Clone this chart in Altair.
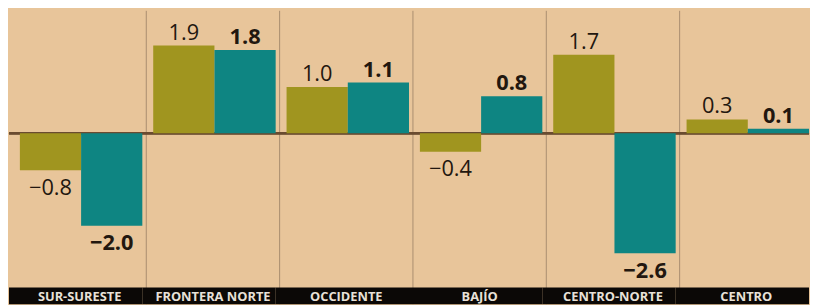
import altair as alt
import pandas as pd

regions = ["SUR-SURESTE", "FRONTERA NORTE", "OCCIDENTE", "BAJÍO", "CENTRO-NORTE", "CENTRO"]
series_names = ["Serie 1", "Serie 2"]
olive_values = [-0.8, 1.9, 1.0, -0.4, 1.7, 0.3]
teal_values = [-2.0, 1.8, 1.1, 0.8, -2.6, 0.1]

BG = "#E8C59A"
OLIVE = "#A0951F"
TEAL = "#0E8582"
INK = "#22170F"

rows = []
for r, a, b in zip(regions, olive_values, teal_values):
    rows.append({"region": r, "series": series_names[0], "value": a})
    rows.append({"region": r, "series": series_names[1], "value": b})
df = pd.DataFrame(rows)
reg_df = pd.DataFrame({"region": regions})
sep_df = pd.DataFrame({"region": regions[:-1]})

W, H = 810, 297
xs = alt.Scale(domain=regions, paddingInner=0, paddingOuter=0)
ys = alt.Scale(domain=[-3.70, 2.65], nice=False, zero=False)
xo = alt.Scale(domain=series_names, paddingInner=0, paddingOuter=0.089, align=1)

X = alt.X("region:N", sort=regions, scale=xs, axis=None)
Y = alt.Y("value:Q", scale=ys, axis=None)

band = alt.Chart(reg_df).mark_rect(color="#0B0806").encode(
    x=X, y=alt.value(280), y2=alt.value(H)
)

seps = alt.Chart(sep_df).mark_rule(color="#A98D70", strokeWidth=1, xOffset=4).encode(
    x=alt.X("region:N", sort=regions, scale=xs, axis=None, bandPosition=1)
)

zero = alt.Chart(reg_df).mark_rule(color="#6A4B30", strokeWidth=2).encode(
    y=alt.Y(datum=0, scale=ys, axis=None)
)

bars = alt.Chart(df).mark_bar().encode(
    x=X,
    xOffset=alt.XOffset("series:N", scale=xo, sort=series_names),
    y=Y,
    y2=alt.Y2(datum=0),
    color=alt.Color("series:N", scale=alt.Scale(domain=series_names, range=[OLIVE, TEAL]), legend=None),
)

base_txt = alt.Chart(df).transform_calculate(label="format(datum.value, '.1f')")


def txt(series, positive, weight):
    cond = "datum.value >= 0" if positive else "datum.value < 0"
    return base_txt.transform_filter(
        f"datum.series == '{series}' && {cond}"
    ).mark_text(
        font="Open Sans",
        fontSize=22,
        fontWeight=weight,
        color=INK,
        baseline="alphabetic" if positive else "top",
        dy=-6 if positive else 8,
    ).encode(
        x=X,
        xOffset=alt.XOffset("series:N", scale=xo, sort=series_names),
        y=Y,
        text="label:N",
    )


labels = [
    txt(series_names[0], True, "normal"),
    txt(series_names[0], False, "normal"),
    txt(series_names[1], True, "bold"),
    txt(series_names[1], False, "bold"),
]

band_txt = alt.Chart(reg_df).mark_text(
    font="Open Sans", fontSize=13, fontWeight="bold", color="#E8E1D8", xOffset=4,
    baseline="middle"
).encode(x=X, y=alt.value(290), text="region:N")

chart = alt.layer(seps, zero, bars, *labels, band, band_txt).properties(
    width=W, height=H, padding=0, background=BG
).configure_view(stroke=None)

chart.save("out.html", embed_options={"renderer": "svg", "actions": False})
